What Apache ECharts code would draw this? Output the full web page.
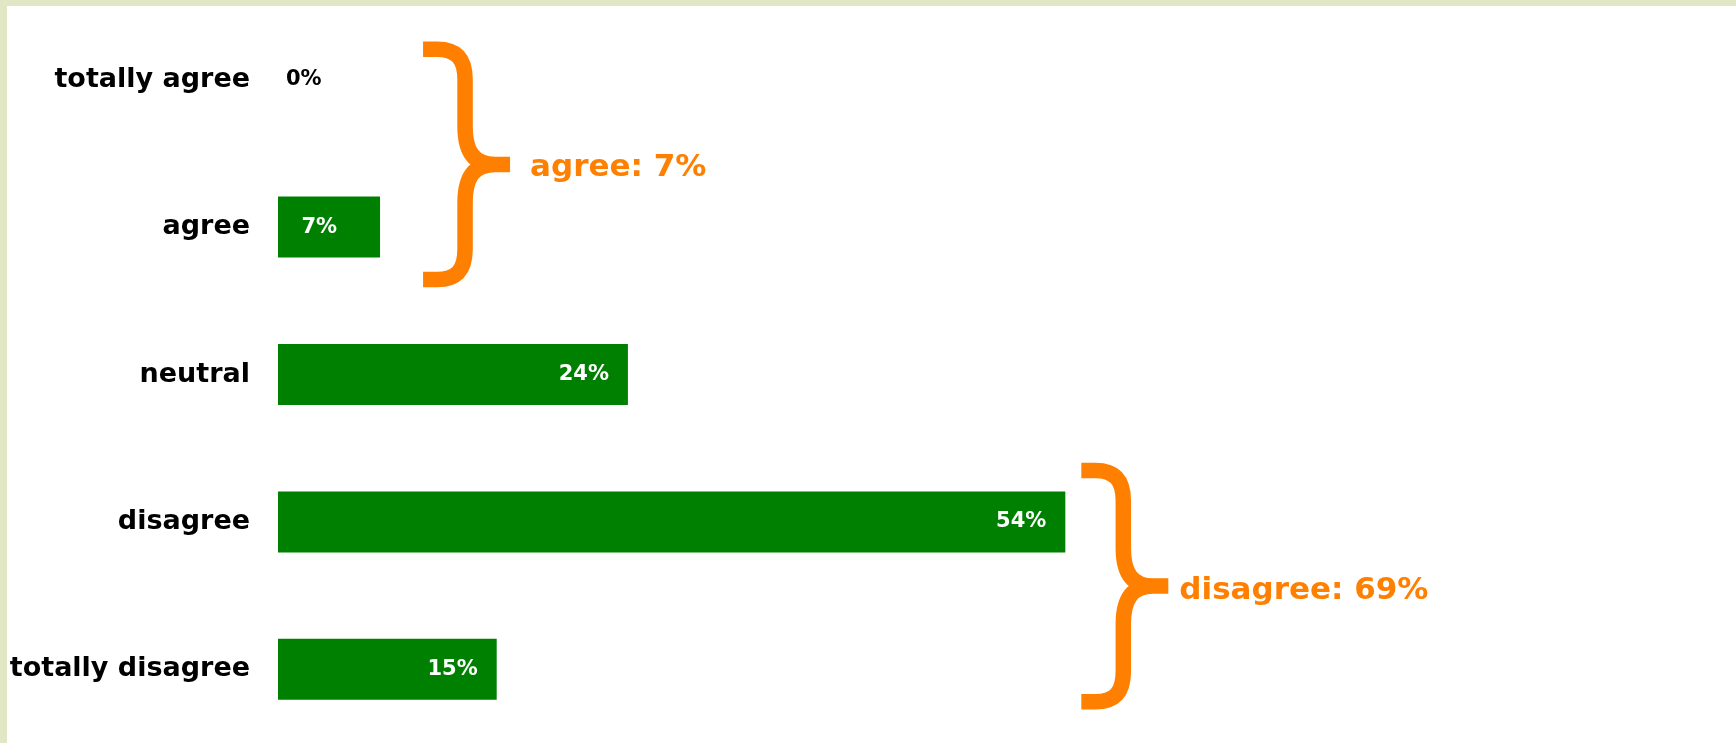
<!DOCTYPE html>
<html>
<head>
<meta charset="utf-8">
<title>Agreement survey</title>
<script src="https://cdn.jsdelivr.net/npm/echarts@6/dist/echarts.min.js"></script>
<style>
  html, body { margin: 0; padding: 0; background: #ffffff; }
  #chart { width: 1736px; height: 743px; }
</style>
</head>
<body>
<div id="chart"></div>
<script>
// ---- data ----
const categories = ['totally agree', 'agree', 'neutral', 'disagree', 'totally disagree'];
const shares = [0, 7, 24, 54, 15];            // percent of answers
const groupNames = ['agree', 'disagree'];      // summary brackets
const groupMembers = [[0, 1], [3, 4]];         // category indices in each bracket

// ---- style ----
const GREEN = '#008000';
const ORANGE = '#ff8000';
const FRAME = '#e1e7c5';
const FONT = '"DejaVu Sans", sans-serif';

// label placement tweaks per category index
const labelTweaks = {
  0: { position: 'right', distance: 8, color: '#000000' },
  1: { position: 'insideRight', distance: 43 }
};

// bracket geometry: offsets in px from member band centres, gap after bars, text gap
const bracketLayout = [
  { topOff: -38, bottomOff: 60, gap: 43, textGap: 20, textDy: 4 },
  { topOff: -59, bottomOff: 40, gap: 16, textGap: 11, textDy: 5 }
];

const chart = echarts.init(document.getElementById('chart'), null, { renderer: 'canvas' });

const seriesData = shares.map((v, i) => {
  const item = { value: v };
  if (labelTweaks[i]) item.label = Object.assign({}, labelTweaks[i]);
  return item;
});

chart.setOption({
  animation: false,
  backgroundColor: '#ffffff',
  grid: { left: 278, top: 6, width: 1461, height: 740, containLabel: false },
  xAxis: {
    type: 'value', min: 0, max: 100, show: false,
    splitLine: { show: false }
  },
  yAxis: {
    type: 'category', data: categories, inverse: true,
    axisLine: { show: false }, axisTick: { show: false }, splitLine: { show: false },
    axisLabel: {
      margin: 28, color: '#000000', fontFamily: FONT, fontWeight: 'bold', fontSize: 27
    }
  },
  series: [{
    type: 'bar',
    data: seriesData,
    barWidth: 61,
    itemStyle: { color: GREEN },
    label: {
      show: true, position: 'insideRight', distance: 19,
      formatter: p => p.value + '%',
      color: '#ffffff', fontFamily: FONT, fontWeight: 'bold', fontSize: 21
    }
  }]
});

// curly bracket "}" as a thick stroked path in local coords, height h
function bracketPath(h) {
  const t = 7.5, m = h / 2;
  return [
    'M0,' + t, 'L14,' + t, 'C34,' + t + ' 42,18 42,38',
    'L42,' + (m - 38), 'C42,' + (m - 14) + ' 50,' + m + ' 72,' + m, 'L87,' + m,
    'M87,' + m, 'L72,' + m, 'C50,' + m + ' 42,' + (m + 14) + ' 42,' + (m + 38),
    'L42,' + (h - 38), 'C42,' + (h - 18) + ' 34,' + (h - t) + ' 14,' + (h - t), 'L0,' + (h - t)
  ].join(' ');
}

const elements = [
  { type: 'rect', shape: { x: 0, y: 0, width: 1736, height: 6 }, style: { fill: FRAME }, silent: true },
  { type: 'rect', shape: { x: 0, y: 0, width: 7, height: 743 }, style: { fill: FRAME }, silent: true }
];

groupMembers.forEach((members, g) => {
  const lay = bracketLayout[g];
  const first = members[0], last = members[members.length - 1];
  const yTop = chart.convertToPixel({ yAxisIndex: 0 }, first) + lay.topOff;
  const yBot = chart.convertToPixel({ yAxisIndex: 0 }, last) + lay.bottomOff;
  const longest = Math.max.apply(null, members.map(i => shares[i]));
  const xLeft = chart.convertToPixel({ xAxisIndex: 0 }, longest) + lay.gap;
  const h = yBot - yTop;
  const total = members.reduce((s, i) => s + shares[i], 0);

  const shapeName = 'bracket' + g;
  echarts.graphic.registerShape(shapeName, echarts.graphic.extendPath(bracketPath(h), {}));

  elements.push({
    type: shapeName, x: xLeft, y: yTop, silent: true,
    style: { fill: 'none', stroke: ORANGE, lineWidth: 15.5, lineCap: 'butt', lineJoin: 'round' }
  });
  elements.push({
    type: 'text', x: xLeft + 87 + lay.textGap, y: yTop + h / 2 + lay.textDy, silent: true,
    style: {
      text: groupNames[g] + ': ' + total + '%',
      fill: ORANGE, font: 'bold 31px ' + FONT,
      textAlign: 'left', textVerticalAlign: 'middle', align: 'left', verticalAlign: 'middle'
    }
  });
});

chart.setOption({ graphic: { elements: elements } });
</script>
</body>
</html>
